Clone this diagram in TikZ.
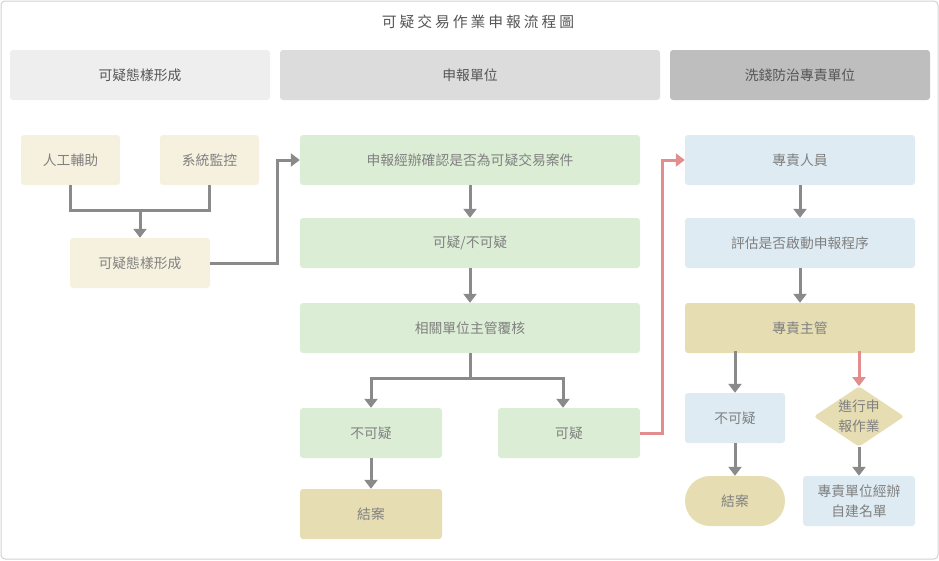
\documentclass[tikz,border=0pt]{standalone}
\usepackage{fontspec}
\setmainfont{Noto Sans CJK TC}
\usepackage{tikz}
\usetikzlibrary{arrows.meta,shapes.geometric}
\definecolor{laneA}{HTML}{EEEEEE}
\definecolor{laneB}{HTML}{DCDCDC}
\definecolor{laneC}{HTML}{BEBEBE}
\definecolor{cream}{HTML}{F6F1DF}
\definecolor{leaf}{HTML}{DCEDD5}
\definecolor{sky}{HTML}{DEEBF2}
\definecolor{sand}{HTML}{E6DDB3}
\definecolor{ink}{HTML}{555555}
\definecolor{soft}{HTML}{808080}
\definecolor{wire}{HTML}{8A8A8A}
\definecolor{alert}{HTML}{E38E8E}
\tikzset{%
  >={Triangle[width=13pt,length=9pt]},
  % Specifications for style of nodes:
        boxbase/.style = {rectangle, rounded corners=3pt, draw=none,
                          minimum height=50pt, inner sep=0pt,
                          align=center, text=soft,
                          font=\fontsize{13.8}{20}\selectfont},
       lanehead/.style = {boxbase, minimum height=50pt, text=ink},
       creambox/.style = {boxbase, fill=cream},
        leafbox/.style = {boxbase, fill=leaf},
         skybox/.style = {boxbase, fill=sky},
        sandbox/.style = {boxbase, fill=sand},
       finalbox/.style = {boxbase, fill=sand, rounded corners=25pt},
      decisions/.style = {diamond, fill=sand, rounded corners=3pt,
                          inner sep=0pt, shape aspect=1.5, text=soft,
                          align=center, font=\fontsize{13.8}{20}\selectfont},
       flowline/.style = {->, draw=wire, line width=3pt},
      alertline/.style = {->, draw=alert, line width=3pt},
}

\begin{document}
\begin{tikzpicture}[x=1pt, y=-1pt, node distance=83pt]
  \useasboundingbox (0,0) rectangle (939,560);
  \draw[draw=laneC!70, line width=1pt, rounded corners=4pt] (1,1) rectangle (938,559);
  \node (title) [text=ink, font=\fontsize{14.8}{18}\selectfont\addfontfeature{LetterSpace=20}]
    at (478,22) {可疑交易作業申報流程圖};

  % Lane headers
  \node (laneOne) [lanehead, fill=laneA, minimum width=260pt] at (140,75) {可疑態樣形成};
  \node (laneTwo) [lanehead, fill=laneB, minimum width=380pt] at (470,75) {申報單位};
  \node (laneThree) [lanehead, fill=laneC, minimum width=260pt] at (800,75) {洗錢防治專責單位};

  % Specification of nodes (position, etc.)
  \node (manual) [creambox, minimum width=99pt] at (70.5,160) {人工輔助};
  \node (monitor) [creambox, minimum width=99pt] at (209.5,160) {系統監控};
  \node (pattern) [creambox, minimum width=140pt] at (140,263) {可疑態樣形成};

  \node (check) [leafbox, minimum width=340pt] at (470,160) {申報經辦確認是否為可疑交易案件};
  \node (judge) [leafbox, minimum width=340pt, below of=check] {可疑/不可疑};
  \node (review) [leafbox, minimum width=340pt, below of=judge, yshift=-2pt] {相關單位主管覆核};
  \node (clearA) [leafbox, minimum width=142pt] at (371,433) {不可疑};
  \node (suspA) [leafbox, minimum width=142pt] at (569,433) {可疑};
  \node (closeA) [sandbox, minimum width=142pt] at (371,514) {結案};

  \node (officer) [skybox, minimum width=230pt] at (800,160) {專責人員};
  \node (assess) [skybox, minimum width=230pt, below of=officer] {評估是否啟動申報程序};
  \node (chief) [sandbox, minimum width=230pt, below of=assess, yshift=-2pt] {專責主管};
  \node (clearB) [skybox, minimum width=100pt] at (735,418) {不可疑};
  \node (report) [decisions] at (859,416.5) {進行申\\報作業};
  \node (closeB) [finalbox, minimum width=100pt] at (735,501) {結案};
  \node (ownlist) [skybox, minimum width=112pt] at (859,501) {專責單位經辦\\自建名單};

  % Specification of lines between nodes specified above
  \coordinate (merge) at (140,210);
  \draw[flowline, -] (manual.south) |- (merge) -| (monitor.south);
  \draw[flowline] (merge) -- (pattern);
  \draw[flowline] (pattern.east) -- ++(67,0) |- (check.west);
  \draw[flowline] (check) -- (judge);
  \draw[flowline] (judge) -- (review);
  \draw[flowline] (review.south) -- ++(0,25) -| (clearA.north);
  \draw[flowline] (review.south) -- ++(0,25) -| ([xshift=-6pt]suspA.north);
  \draw[flowline] (clearA) -- (closeA);
  \draw[alertline] (suspA.east) -- ++(22,0) |- (officer.west);

  \draw[flowline] (officer) -- (assess);
  \draw[flowline] (assess) -- (chief);
  \draw[flowline] ([yshift=2pt]clearB.north |- chief.south) -- (clearB.north);
  \draw[alertline] ([yshift=2pt]report.north |- chief.south) -- (report.north);
  \draw[flowline] (clearB) -- (closeB);
  \draw[flowline] (report) -- (ownlist);
\end{tikzpicture}
\end{document}
